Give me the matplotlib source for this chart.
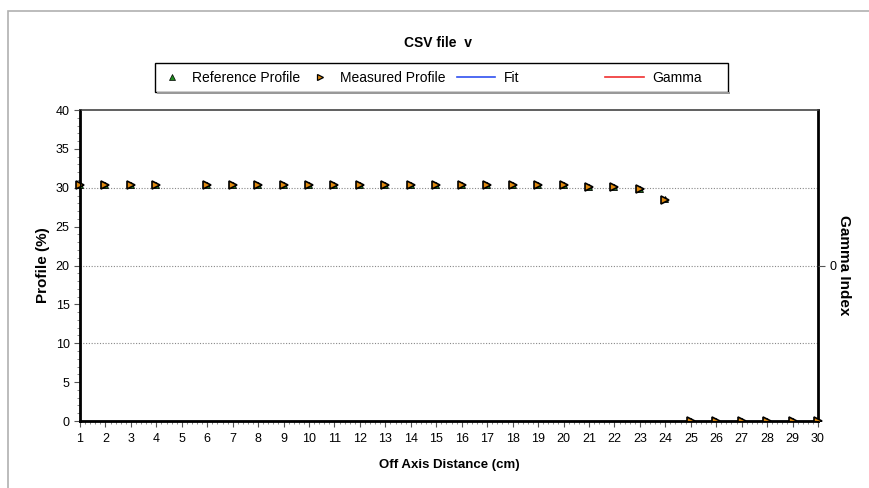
import matplotlib
matplotlib.use("Agg")
import matplotlib.pyplot as plt
from matplotlib.lines import Line2D
from matplotlib.patches import Rectangle
from matplotlib.ticker import MultipleLocator

plt.rcParams["font.family"] = ["Liberation Sans", "DejaVu Sans"]

# profile samples (off axis distance in cm, profile in %)
distance = [1, 2, 3, 4, 6, 7, 8, 9, 10, 11, 12, 13, 14, 15, 16, 17, 18, 19, 20,
            21, 22, 23, 24, 25, 26, 27, 28, 29, 30]
reference = [30.3, 30.3, 30.3, 30.3, 30.3, 30.3, 30.3, 30.3, 30.3, 30.3, 30.3,
             30.3, 30.3, 30.3, 30.3, 30.3, 30.3, 30.3, 30.3, 30.1, 30.1, 29.8,
             28.5, 0, 0, 0, 0, 0, 0]
measured = [30.3, 30.3, 30.3, 30.3, 30.3, 30.3, 30.3, 30.3, 30.3, 30.3, 30.3,
            30.3, 30.3, 30.3, 30.3, 30.3, 30.3, 30.3, 30.3, 30.1, 30.1, 29.8,
            28.4, 0, 0, 0, 0, 0, 0]
x_ticks = list(range(1, 31))
y_ticks = [0, 5, 10, 15, 20, 25, 30, 35, 40]
legend_labels = ["Reference Profile", "Measured Profile", "Fit", "Gamma"]

MEAS_FACE = "#E08A10"
REF_FACE = "#1F8A1F"

fig = plt.figure(figsize=(8.7, 4.88), dpi=100)
ax = fig.add_axes([80 / 870, 1 - 421 / 488, 738 / 870, 311 / 488])

# clip only at the bottom/top so points on x=1 and x=30 still show
clip = Rectangle((-0.03, 0), 1.06, 1, transform=ax.transAxes)

ref_line, = ax.plot(distance, reference, ls="none", marker="^", ms=4,
                    mfc=REF_FACE, mec="black", mew=0.6, zorder=3)
meas_line, = ax.plot(distance, measured, ls="none", marker=">", ms=5.5,
                     mfc=MEAS_FACE, mec="black", mew=1.2, zorder=4)
ref_line.set_clip_path(clip)
meas_line.set_clip_path(clip)

ax.set_xlim(1, 30)
ax.set_ylim(0, 40)
ax.set_xticks(x_ticks)
ax.xaxis.set_minor_locator(MultipleLocator(0.2))
ax.set_yticks(y_ticks)
ax.yaxis.set_minor_locator(MultipleLocator(1))
for y in (10, 20, 30):
    ax.axhline(y, color="#888888", lw=0.8, ls=(0, (1, 1.5)), zorder=1)

ax.tick_params(axis="both", which="major", length=4, width=0.8,
               labelsize=9, color="#555555")
ax.tick_params(axis="both", which="minor", length=2, width=0.6, color="#777777")
ax.tick_params(axis="x", pad=5)
for side in ("left", "bottom", "right"):
    ax.spines[side].set_linewidth(2)
    ax.spines[side].set_color("black")
ax.spines["top"].set_linewidth(1.2)
ax.spines["top"].set_color("#444444")

ax.set_xlabel("Off Axis Distance (cm)", fontsize=9.5, fontweight="bold", labelpad=10)
ax.set_ylabel("Profile (%)", fontsize=11, fontweight="bold", labelpad=4)

ax2 = ax.twinx()
ax2.set_ylim(-1, 1)
ax2.set_yticks([0])
ax2.tick_params(axis="y", length=5, width=0.8, labelsize=9, color="#555555")
ax2.spines["right"].set_visible(False)
ax2.spines["top"].set_visible(False)
ax2.set_ylabel("Gamma Index", fontsize=11, fontweight="bold",
               rotation=-90, labelpad=10)

fig.text(438 / 870, 1 - 43 / 488, "CSV file  v", ha="center", va="center",
         fontsize=10, fontweight="bold")

# legend: frame plus four equally spaced entries
handles = [
    Line2D([], [], ls="none", marker="^", ms=4, mfc=REF_FACE, mec="black", mew=0.5),
    Line2D([], [], ls="none", marker=">", ms=4, mfc=MEAS_FACE, mec="black", mew=0.9),
    Line2D([], [], color="#3050F0", lw=1.2),
    Line2D([], [], color="#F03030", lw=1.2),
]
handle_len = [1.7, 1.7, 2.8, 2.8]
fig.add_artist(Rectangle((155 / 870, 1 - 92 / 488), 573 / 870, 29 / 488,
                         transform=fig.transFigure, fill=False,
                         edgecolor="black", lw=1.0))
fig.add_artist(Rectangle((157 / 870, 1 - 94 / 488), 573 / 870, 2 / 488,
                         transform=fig.transFigure, fill=True,
                         facecolor="#999999", lw=0))
for i, (h, lab) in enumerate(zip(handles, legend_labels)):
    x0 = (160 + i * 148.3) / 870
    leg = fig.legend([h], [lab], loc="center left",
                     bbox_to_anchor=(x0, 1 - 77.5 / 488),
                     frameon=False, fontsize=10, borderpad=0,
                     borderaxespad=0, handlelength=handle_len[i],
                     handletextpad=0.6)

# outer frame lines (top and left only visible)
fig.add_artist(Rectangle((8 / 870, -0.1), 1.2, 1 - 11 / 488 + 0.1,
                         transform=fig.transFigure, fill=False,
                         edgecolor="#B0B0B0", lw=1.2))

fig.savefig("out.png", dpi=100, facecolor="white")
